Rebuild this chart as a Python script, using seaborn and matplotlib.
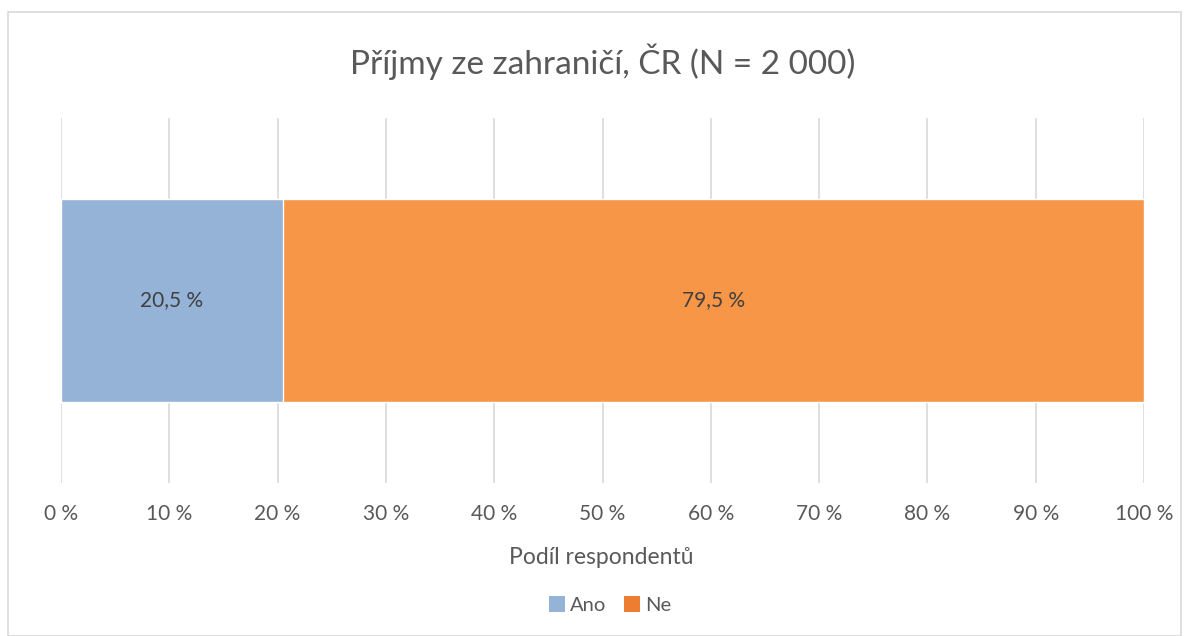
import numpy as np
import pandas as pd
import matplotlib
matplotlib.use("Agg")
import matplotlib.pyplot as plt
import seaborn as sns
from matplotlib.patches import Patch, Rectangle

# data
categories = ["Ano", "Ne"]
shares = [20.5, 79.5]
bar_colors = ["#95B3D7", "#F79646"]
legend_colors = ["#95B3D7", "#ED7D31"]
ticks = [0, 10, 20, 30, 40, 50, 60, 70, 80, 90, 100]

sns.set_theme(style="white")
plt.rcParams['font.family'] = ['Lato', 'DejaVu Sans']
txt = "#595959"

fig = plt.figure(figsize=(11.89, 6.36), dpi=100)
ax = fig.add_axes([0.0513, 0.2406, 0.9109, 0.5739])

# stack by drawing cumulative sums, widest first
cum = np.cumsum(shares)
df = pd.DataFrame({"row": [""] * len(categories), "cat": categories, "cum": cum})
for i in range(len(categories) - 1, -1, -1):
    sns.barplot(data=df.iloc[[i]], x="cum", y="row", color=bar_colors[i],
                width=0.556, ax=ax, zorder=3, saturation=1)

starts = np.concatenate([[0], cum[:-1]])
for s, v in zip(starts, shares):
    ax.text(s + v / 2, 0, f"{v:.1f} %".replace(".", ","), ha="center",
            va="center", fontsize=15, color="#404040", zorder=4)

ax.set_xlim(0, 100)
ax.set_ylim(0.5, -0.5)
ax.set_xticks(ticks)
ax.set_xticklabels([f"{t} %" for t in ticks])
ax.tick_params(axis="x", length=0, pad=15, labelsize=15, colors=txt)
ax.set_yticks([])
ax.set_xlabel("")
ax.set_ylabel("")
ax.grid(axis="x", color="#D9D9D9", lw=1.2, zorder=0)
for sp in ax.spines.values():
    sp.set_visible(False)

fig.text(0.507, 0.9025, "Příjmy ze zahraničí, ČR (N = 2 000)", ha="center",
         va="center", fontsize=24, color=txt)
fig.text(0.506, 1 - 557 / 636, "Podíl respondentů", ha="center", va="center",
         fontsize=16.5, color=txt)

handles = [Patch(facecolor=c, edgecolor="none") for c in legend_colors]
fig.legend(handles, categories, loc="center", bbox_to_anchor=(0.513, 1 - 605 / 636),
           ncol=2, frameon=False, fontsize=14.5, handlelength=0.8, handleheight=0.8,
           handletextpad=0.25, columnspacing=0.9, labelcolor=txt)

fig.patches.append(Rectangle((8 / 1189, 0.0), 1173 / 1189, 1 - 12 / 636,
                             transform=fig.transFigure, fill=False,
                             edgecolor="#D9D9D9", lw=1.2))

fig.savefig("out.png", dpi=100, facecolor="white")
